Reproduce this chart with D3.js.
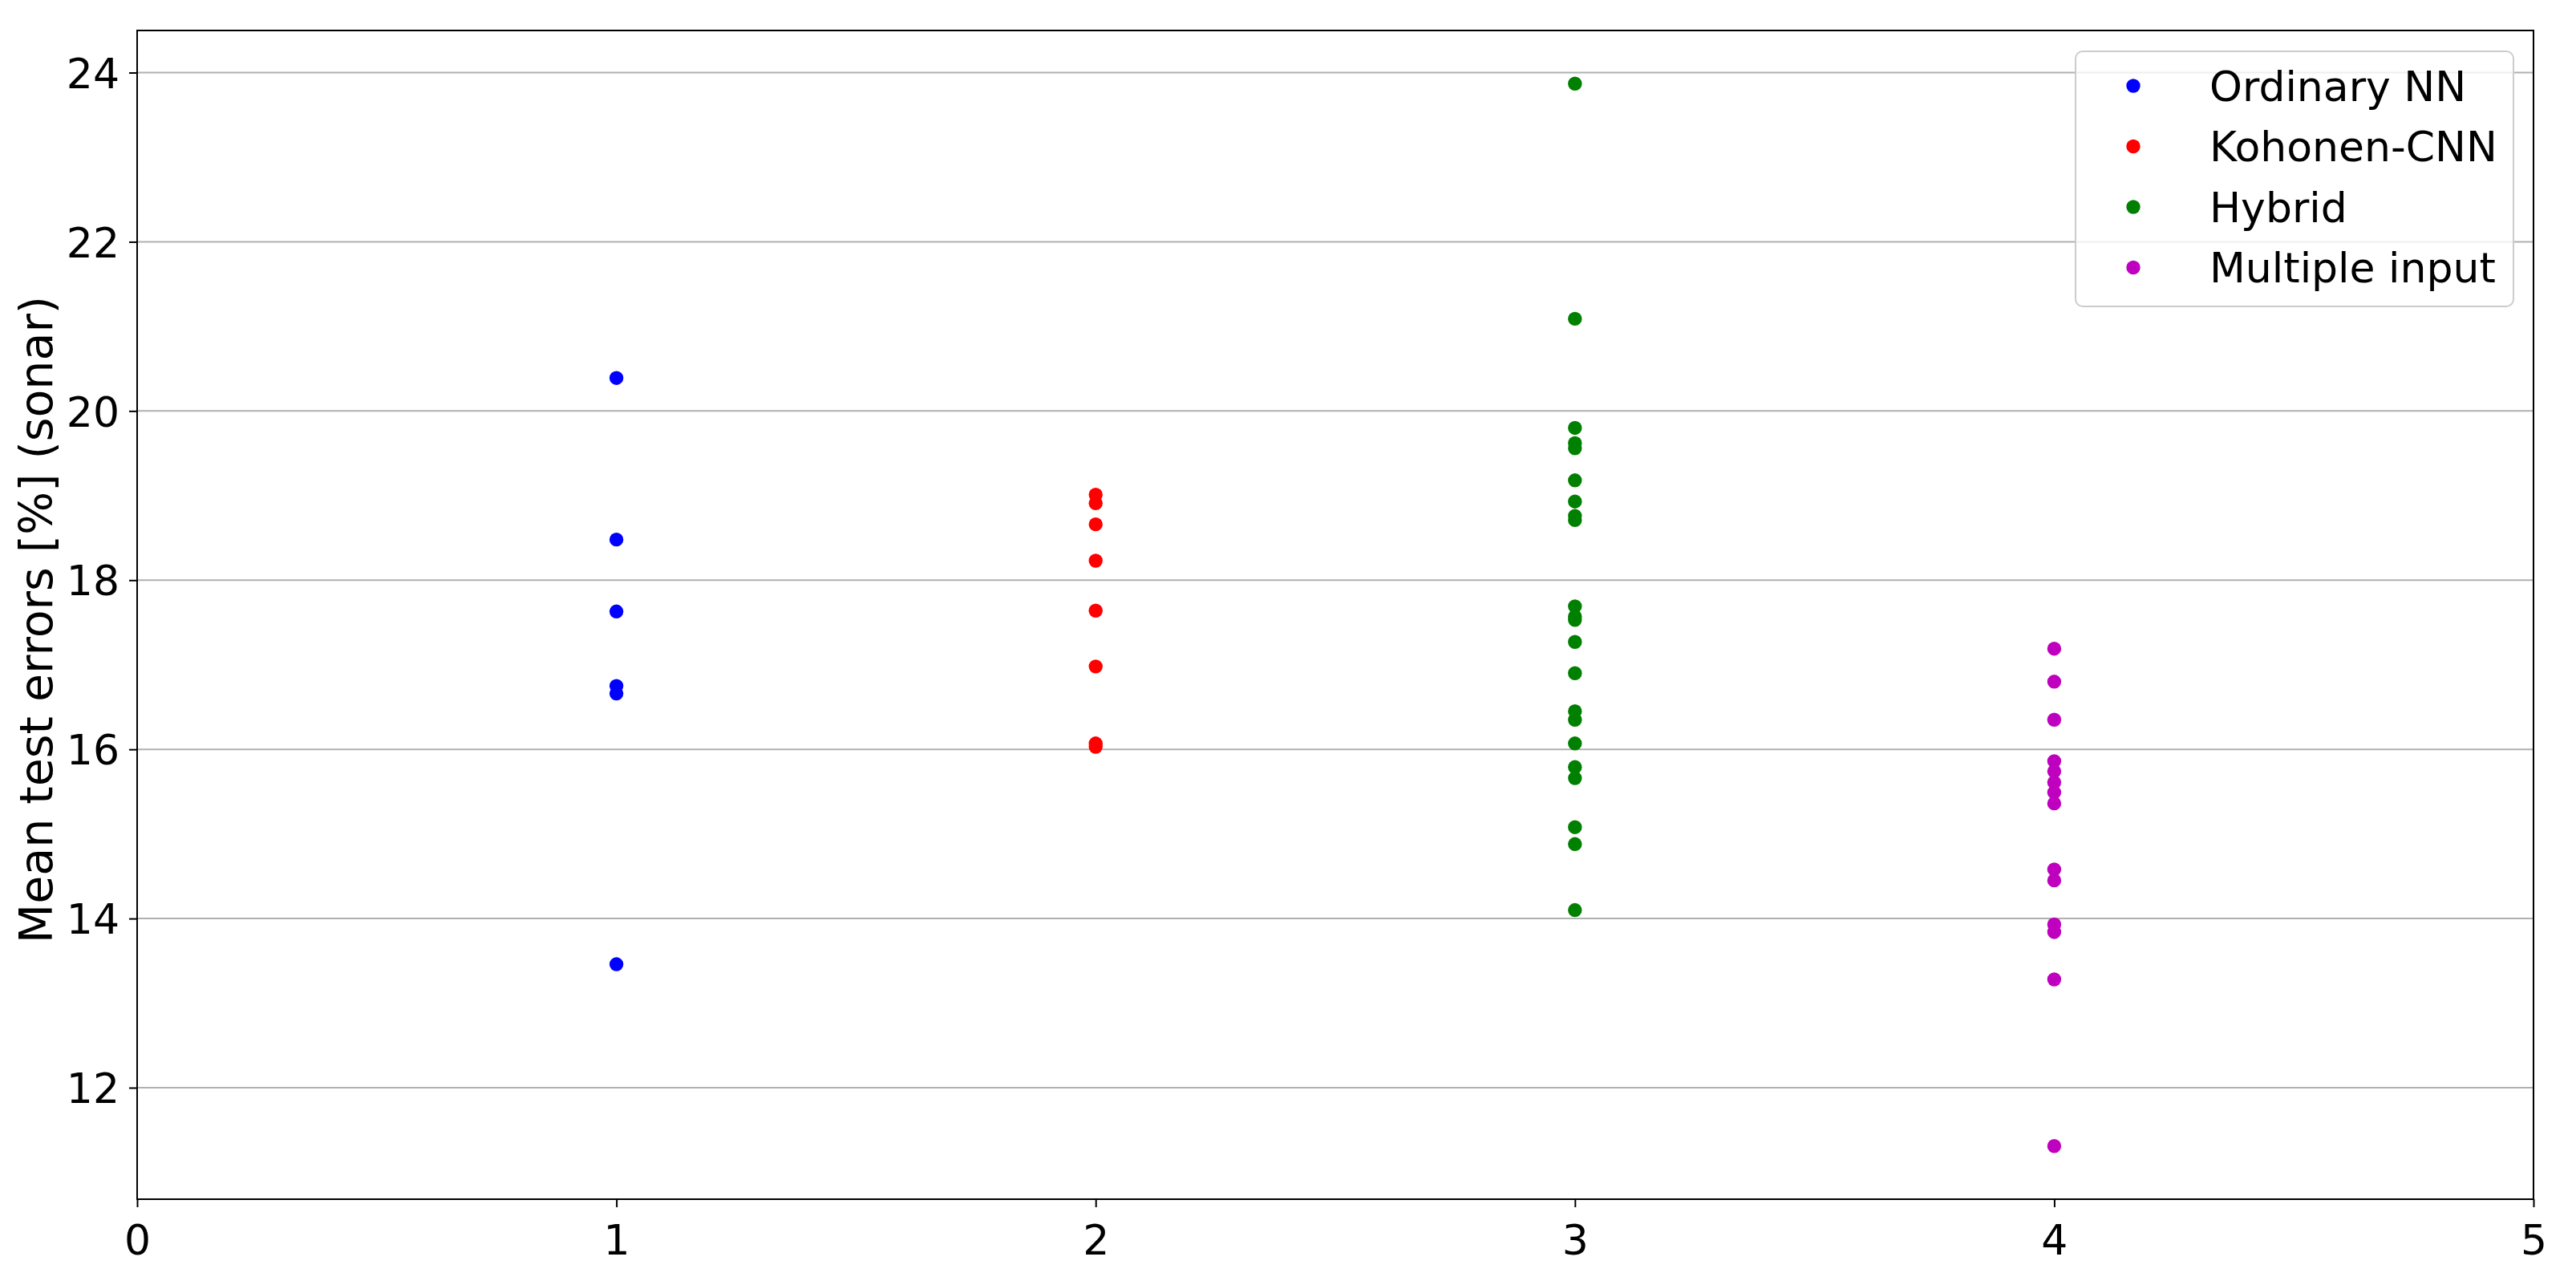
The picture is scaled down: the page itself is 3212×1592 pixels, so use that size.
<!DOCTYPE html>
<html>
<head>
<meta charset="utf-8">
<script src="https://cdn.jsdelivr.net/npm/d3@7"></script>
<style>
  body { margin: 0; background: #fff; }
  text { font-family: "DejaVu Sans", sans-serif; }
</style>
</head>
<body>
<div id="chart"></div>
<script>
// Figure size
const width = 3212;
const height = 1592;
const margin = {top: 38, right: 53, bottom: 97, left: 171};

// Data
const seriesNames = ["Ordinary NN", "Kohonen-CNN", "Hybrid", "Multiple input"];
const seriesColors = ["#0000ff", "#ff0000", "#008000", "#bf00bf"];
const seriesX = [1, 2, 3, 4];
const ordinaryNN = [20.39, 18.48, 17.63, 16.75, 16.66, 13.46];
const kohonenCNN = [19.01, 18.91, 18.66, 18.23, 17.64, 16.98, 16.07, 16.03];
const hybrid = [23.87, 21.09, 19.80, 19.62, 19.56, 19.18, 18.93, 18.76, 18.71, 17.69, 17.57,
  17.53, 17.27, 16.90, 16.45, 16.35, 16.07, 15.79, 15.66, 15.08, 14.88, 14.10];
const multipleInput = [17.19, 16.80, 16.35, 15.86, 15.74, 15.61, 15.49, 15.36, 14.58, 14.45,
  13.93, 13.84, 13.28, 11.31];
const xTicks = [0, 1, 2, 3, 4, 5];
const yTicks = [12, 14, 16, 18, 20, 22, 24];

const allSeries = [ordinaryNN, kohonenCNN, hybrid, multipleInput];

const plotW = width - margin.left - margin.right;
const plotH = height - margin.top - margin.bottom;

// y limits like matplotlib's 5% margin
const allValues = allSeries.flat();
const yMin = d3.min(allValues), yMax = d3.max(allValues);
const pad = (yMax - yMin) * 0.05;

const x = d3.scaleLinear().domain([0, 5]).range([0, plotW]);
const y = d3.scaleLinear().domain([yMin - pad, yMax + pad]).range([plotH, 0]);

const svg = d3.select("#chart")
  .append("svg")
  .attr("width", width)
  .attr("height", height);

const g = svg.append("g")
  .attr("transform", "translate(" + margin.left + "," + margin.top + ")");

// grid lines (horizontal only)
g.append("g")
  .selectAll("line")
  .data(yTicks)
  .enter()
  .append("line")
  .attr("x1", 0)
  .attr("x2", plotW)
  .attr("y1", d => y(d))
  .attr("y2", d => y(d))
  .attr("stroke", "#b0b0b0")
  .attr("stroke-width", 2);

// points
allSeries.forEach(function(values, i) {
  g.append("g")
    .selectAll("circle")
    .data(values)
    .enter()
    .append("circle")
    .attr("cx", x(seriesX[i]))
    .attr("cy", d => y(d))
    .attr("r", 8.7)
    .attr("fill", seriesColors[i]);
});

// axes
const xAxis = g.append("g")
  .attr("transform", "translate(0," + plotH + ")")
  .call(d3.axisBottom(x).tickValues(xTicks).tickFormat(d3.format("d")).tickSize(10).tickPadding(12));

const yAxis = g.append("g")
  .call(d3.axisLeft(y).tickValues(yTicks).tickFormat(d3.format("d")).tickSize(10).tickPadding(12));

[xAxis, yAxis].forEach(function(a) {
  a.select(".domain").remove();
  a.selectAll("line").attr("stroke", "#000").attr("stroke-width", 2);
  a.selectAll("text")
    .attr("fill", "#000")
    .style("font-size", "52px")
    .style("font-family", "DejaVu Sans");
});
xAxis.selectAll("text").attr("dy", "0.9em");
yAxis.selectAll("text").attr("dy", "0.36em");

// frame
g.append("rect")
  .attr("x", 0)
  .attr("y", 0)
  .attr("width", plotW)
  .attr("height", plotH)
  .attr("fill", "none")
  .attr("stroke", "#000")
  .attr("stroke-width", 2);

// y label
svg.append("text")
  .attr("transform", "translate(65," + (margin.top + plotH / 2 + 6) + ") rotate(-90)")
  .attr("text-anchor", "middle")
  .style("font-size", "57px")
  .text("Mean test errors [%] (sonar)");

// Legend
const legend = svg.append("g")
  .attr("transform", "translate(2588,64)");

legend.append("rect")
  .attr("width", 546)
  .attr("height", 318)
  .attr("rx", 9)
  .attr("fill", "#fff")
  .attr("fill-opacity", 0.8)
  .attr("stroke", "#cccccc")
  .attr("stroke-width", 2);

const items = legend.selectAll(".item")
  .data(seriesNames)
  .enter()
  .append("g")
  .attr("class", "item")
  .attr("transform", (d, i) => "translate(0," + (43 + i * 75.5) + ")");

items.append("circle")
  .attr("cx", 72)
  .attr("cy", 0)
  .attr("r", 8.7)
  .attr("fill", (d, i) => seriesColors[i]);

items.append("text")
  .attr("x", 167)
  .attr("dy", "0.36em")
  .style("font-size", "52px")
  .text(d => d);
</script>
</body>
</html>
